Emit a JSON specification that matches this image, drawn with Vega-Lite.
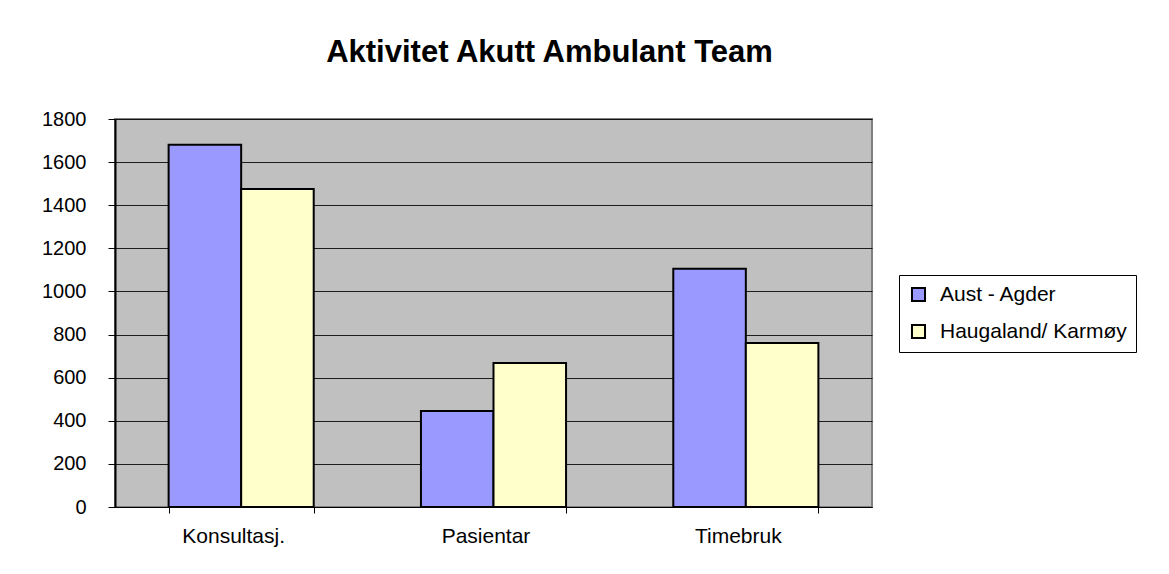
{
  "$schema": "https://vega.github.io/schema/vega-lite/v6.json",
  "autosize": {"type": "none"},
  "padding": {"left": 115, "top": 119, "right": 297, "bottom": 67},
  "width": 757,
  "height": 388,
  "background": "#ffffff",
  "title": {
    "text": "Aktivitet Akutt Ambulant Team",
    "anchor": "middle",
    "offset": 40,
    "dx": 56,
    "font": "Liberation Sans",
    "fontSize": 31,
    "fontWeight": "bold",
    "color": "#000000"
  },
  "data": {
    "values": [
      {"kategori": "Konsultasj.", "region": "Aust - Agder", "verdi": 1680},
      {"kategori": "Konsultasj.", "region": "Haugaland/ Karmøy", "verdi": 1475},
      {"kategori": "Pasientar", "region": "Aust - Agder", "verdi": 445},
      {"kategori": "Pasientar", "region": "Haugaland/ Karmøy", "verdi": 668},
      {"kategori": "Timebruk", "region": "Aust - Agder", "verdi": 1105},
      {"kategori": "Timebruk", "region": "Haugaland/ Karmøy", "verdi": 761}
    ]
  },
  "mark": {"type": "bar", "stroke": "#000000", "strokeWidth": 2},
  "encoding": {
    "x": {
      "field": "kategori",
      "type": "nominal",
      "sort": ["Konsultasj.", "Pasientar", "Timebruk"],
      "scale": {"paddingInner": 0.425, "paddingOuter": 0.2125},
      "axis": {
        "title": null,
        "labelAngle": 0,
        "tickBand": "extent",
        "grid": false,
        "domainColor": "#000000",
        "domainWidth": 1,
        "tickColor": "#000000",
        "tickSize": 6,
        "labelPadding": 12,
        "labelOffset": -8,
        "labelFont": "Liberation Sans",
        "labelFontSize": 21,
        "labelColor": "#000000"
      }
    },
    "xOffset": {
      "field": "region",
      "type": "nominal",
      "sort": ["Aust - Agder", "Haugaland/ Karmøy"],
      "scale": {"paddingInner": 0, "paddingOuter": 0}
    },
    "y": {
      "field": "verdi",
      "type": "quantitative",
      "scale": {"domain": [0, 1800], "nice": false},
      "axis": {
        "title": null,
        "format": "d",
        "values": [0, 200, 400, 600, 800, 1000, 1200, 1400, 1600, 1800],
        "grid": true,
        "gridColor": "#000000",
        "gridWidth": 1,
        "gridOpacity": 0.85,
        "domainColor": "#000000",
        "domainWidth": 2,
        "tickColor": "#000000",
        "tickSize": 7,
        "labelPadding": 22,
        "labelFont": "Liberation Sans",
        "labelFontSize": 20,
        "labelColor": "#000000"
      }
    },
    "color": {
      "field": "region",
      "type": "nominal",
      "scale": {"domain": ["Aust - Agder", "Haugaland/ Karmøy"], "range": ["#9999FF", "#FFFFCC"]},
      "legend": {
        "title": null,
        "orient": "none",
        "legendX": 784,
        "legendY": 156,
        "symbolType": "square",
        "symbolSize": 170,
        "symbolStrokeColor": "#000000",
        "symbolStrokeWidth": 2,
        "symbolOpacity": 1,
        "labelFont": "Liberation Sans",
        "labelFontSize": 21,
        "labelColor": "#000000",
        "labelLimit": 500,
        "labelOffset": 11,
        "rowPadding": 14,
        "padding": 9,
        "strokeColor": "#000000",
        "fillColor": "#ffffff"
      }
    }
  },
  "config": {
    "view": {"fill": "#C0C0C0", "stroke": "#808080", "strokeWidth": 2}
  }
}
